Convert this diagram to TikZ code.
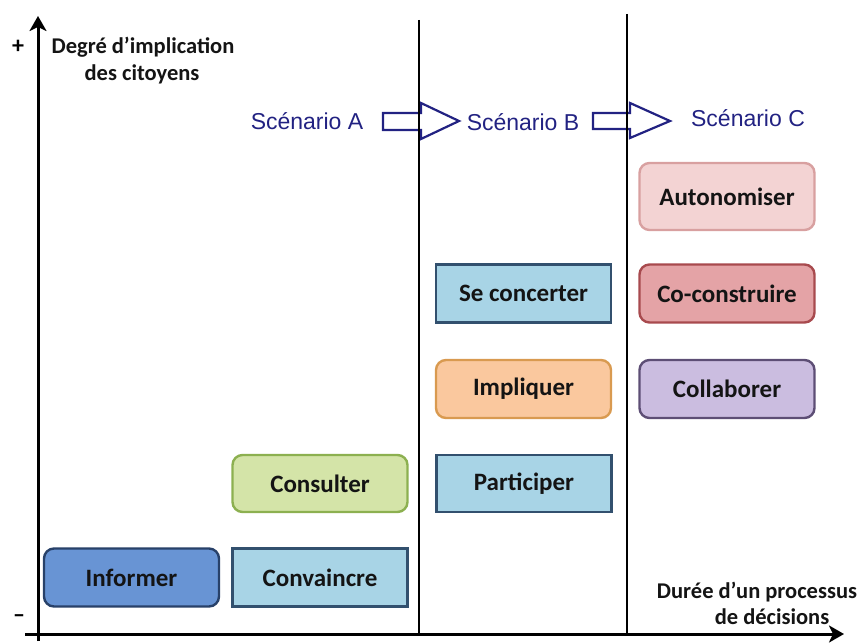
\documentclass[tikz,border=0pt]{standalone}
\usepackage{fontspec}
\setmainfont{Carlito}
\newfontfamily\scenfont{Liberation Sans}
\usetikzlibrary{arrows.meta}
\definecolor{navy}{RGB}{34,34,130}
\definecolor{bordblue}{RGB}{50,80,110}
\definecolor{lightblue}{RGB}{168,212,230}
\definecolor{infofill}{RGB}{104,148,212}
\definecolor{infoline}{RGB}{40,65,105}
\definecolor{consfill}{RGB}{212,228,168}
\definecolor{consline}{RGB}{140,176,80}
\definecolor{implfill}{RGB}{250,200,158}
\definecolor{implline}{RGB}{217,154,80}
\definecolor{autofill}{RGB}{243,211,211}
\definecolor{autoline}{RGB}{216,160,160}
\definecolor{cofill}{RGB}{228,163,166}
\definecolor{coline}{RGB}{168,74,78}
\definecolor{collfill}{RGB}{203,189,224}
\definecolor{collline}{RGB}{93,78,117}
\definecolor{txt}{RGB}{20,20,20}
\tikzset{
  box/.style={draw, line width=2.4pt, minimum height=58pt, minimum width=175pt,
    inner sep=0pt, font=\fontsize{25}{28}\selectfont\bfseries, text=txt},
  rbox/.style={box, rounded corners=10pt},
  sbox/.style={box, fill=lightblue, draw=bordblue},
  axislabel/.style={font=\fontsize{22.5}{27}\selectfont\bfseries, text=txt, align=center, inner sep=0pt},
  scen/.style={font=\scenfont\fontsize{23}{26}\selectfont, text=navy, inner sep=0pt},
  hollow/.style={draw=navy, line width=2.2pt, fill=white, line join=miter},
  divider/.style={line width=1.8pt},
  axis/.style={line width=3pt, -{Stealth[length=15pt,width=17pt,inset=4pt]}}
}
\begin{document}
\begin{tikzpicture}[x=1pt,y=-1pt]
\useasboundingbox (0,0) rectangle (866,644);
% dividers
\draw[divider] (419,20) -- (419,634);
\draw[divider] (627,14) -- (627,634);
% axes
\coordinate (yb) at (38,641);
\coordinate (yt) at (38,16);
\coordinate (xl) at (25,634);
\coordinate (xr) at (844,634);
\draw[axis] (yb) -- (yt);
\draw[axis] (xl) -- (xr);
\node[font=\fontsize{24}{24}\selectfont\bfseries] (plus) at (18,47) {+};
\node[font=\fontsize{24}{24}\selectfont\bfseries] (minus) at (19,619) {--};
\node[axislabel] (ylab1) at (143,47) {Degré d’implication};
\node[axislabel] (ylab2) at (142,74) {des citoyens};
\node[axislabel] (xlab1) at (757,592) {Durée d’un processus};
\node[axislabel] (xlab2) at (772,617) {de décisions};
% scenarios
\node[scen] (sA) at (307,121) {Scénario A};
\node[scen] (sB) at (523,122) {Scénario B};
\node[scen] (sC) at (748,118) {Scénario C};
\draw[hollow] (383,113) -- (421,113) -- (421,103) -- (459,121) -- (421,139) -- (421,130) -- (383,130) -- cycle;
\draw[hollow] (593,113) -- (630,113) -- (630,103) -- (670,121) -- (630,138) -- (630,129) -- (593,129) -- cycle;
% redraw dividers over arrows
\draw[divider] (419,95) -- (419,150);
\draw[divider] (627,95) -- (627,150);
% boxes
\node[rbox, fill=infofill, draw=infoline] (inf) at (131.5,577.5) {Informer};
\node[sbox] (conv) at (320,577.5) {Convaincre};
\node[rbox, fill=consfill, draw=consline, minimum height=57pt] (cons) at (320,483.5) {Consulter};
\node[sbox, minimum height=57pt] (part) at (524,483.5) {Participer};
\node[rbox, fill=implfill, draw=implline] (impl) at (523.5,389) {Impliquer};
\node[sbox] (conc) at (523.5,293.5) {Se concerter};
\node[rbox, fill=autofill, draw=autoline, minimum height=67pt] (auto) at (727,196.5) {Autonomiser};
\node[rbox, fill=cofill, draw=coline] (cocon) at (727,293.5) {Co-construire};
\node[rbox, fill=collfill, draw=collline] (coll) at (727,389) {Collaborer};
\end{tikzpicture}
\end{document}
